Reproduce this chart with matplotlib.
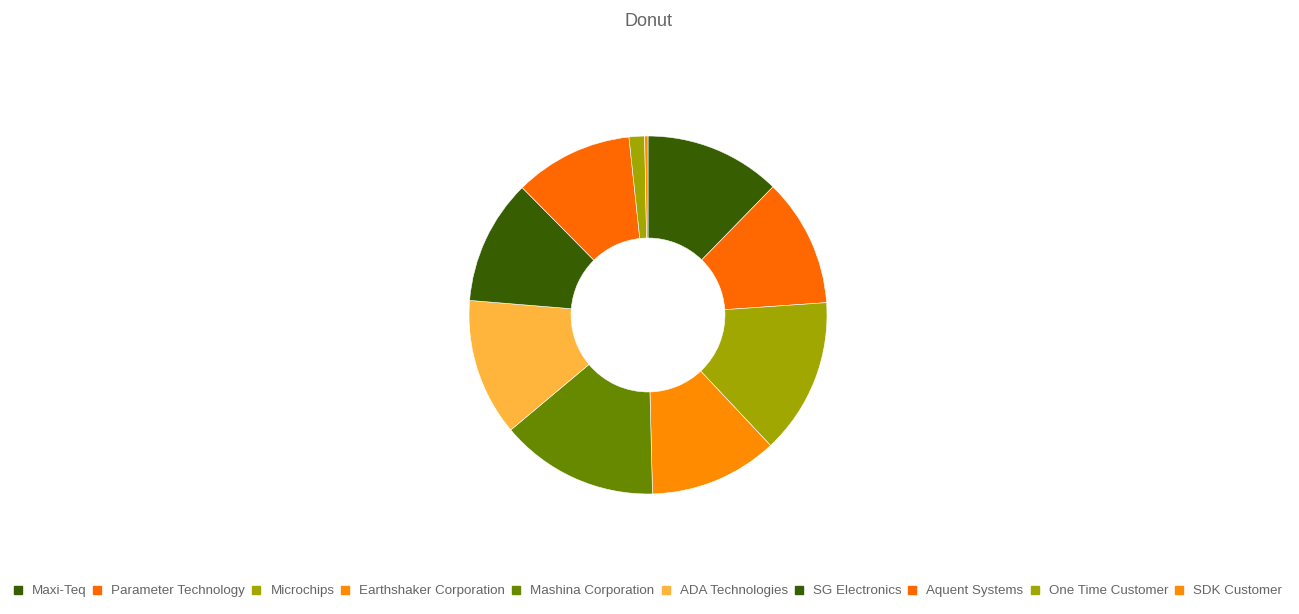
import matplotlib.pyplot as plt
from matplotlib.lines import Line2D

companies = ['Maxi-Teq', 'Parameter Technology', 'Microchips', 'Earthshaker Corporation',
             'Mashina Corporation', 'ADA Technologies', 'SG Electronics', 'Aquent Systems',
             'One Time Customer', 'SDK Customer']
shares = [12.3, 11.6, 14.1, 11.6, 14.3, 12.4, 11.3, 10.7, 1.4, 0.3]
colors = ['#375e00', '#ff6800', '#a0a700', '#ff8c00', '#678900', '#ffb53c',
          '#375e00', '#ff6800', '#a0a700', '#ff8c00']

plt.rcParams['font.family'] = ['Liberation Sans', 'DejaVu Sans']

fig = plt.figure(figsize=(12.99, 6.14), dpi=100)
W, H = 1299, 614
cx, cy, r = 648, 315, 179
ax = fig.add_axes([(cx - r) / W, (H - cy - r) / H, 2 * r / W, 2 * r / H])
ax.pie(shares, colors=colors, startangle=90, counterclock=False, radius=1,
       wedgeprops=dict(width=0.57, edgecolor='white', linewidth=0.4))
ax.set_xlim(-1, 1)
ax.set_ylim(-1, 1)
ax.set_aspect('equal')
ax.axis('off')

fig.text(648 / W, 1 - 21 / H, 'Donut', ha='center', va='center', fontsize=13, color='#656565')

handles = [Line2D([], [], marker='s', linestyle='none', markersize=6.2, color=c) for c in colors]
fig.legend(handles, companies, loc='center', bbox_to_anchor=(648 / W, 1 - 591 / H),
           ncol=len(companies), frameon=False, fontsize=9.6, labelcolor='#656565',
           handlelength=0.6, handletextpad=0.75, columnspacing=0.53, borderpad=0)

fig.savefig('out.png', dpi=100)
